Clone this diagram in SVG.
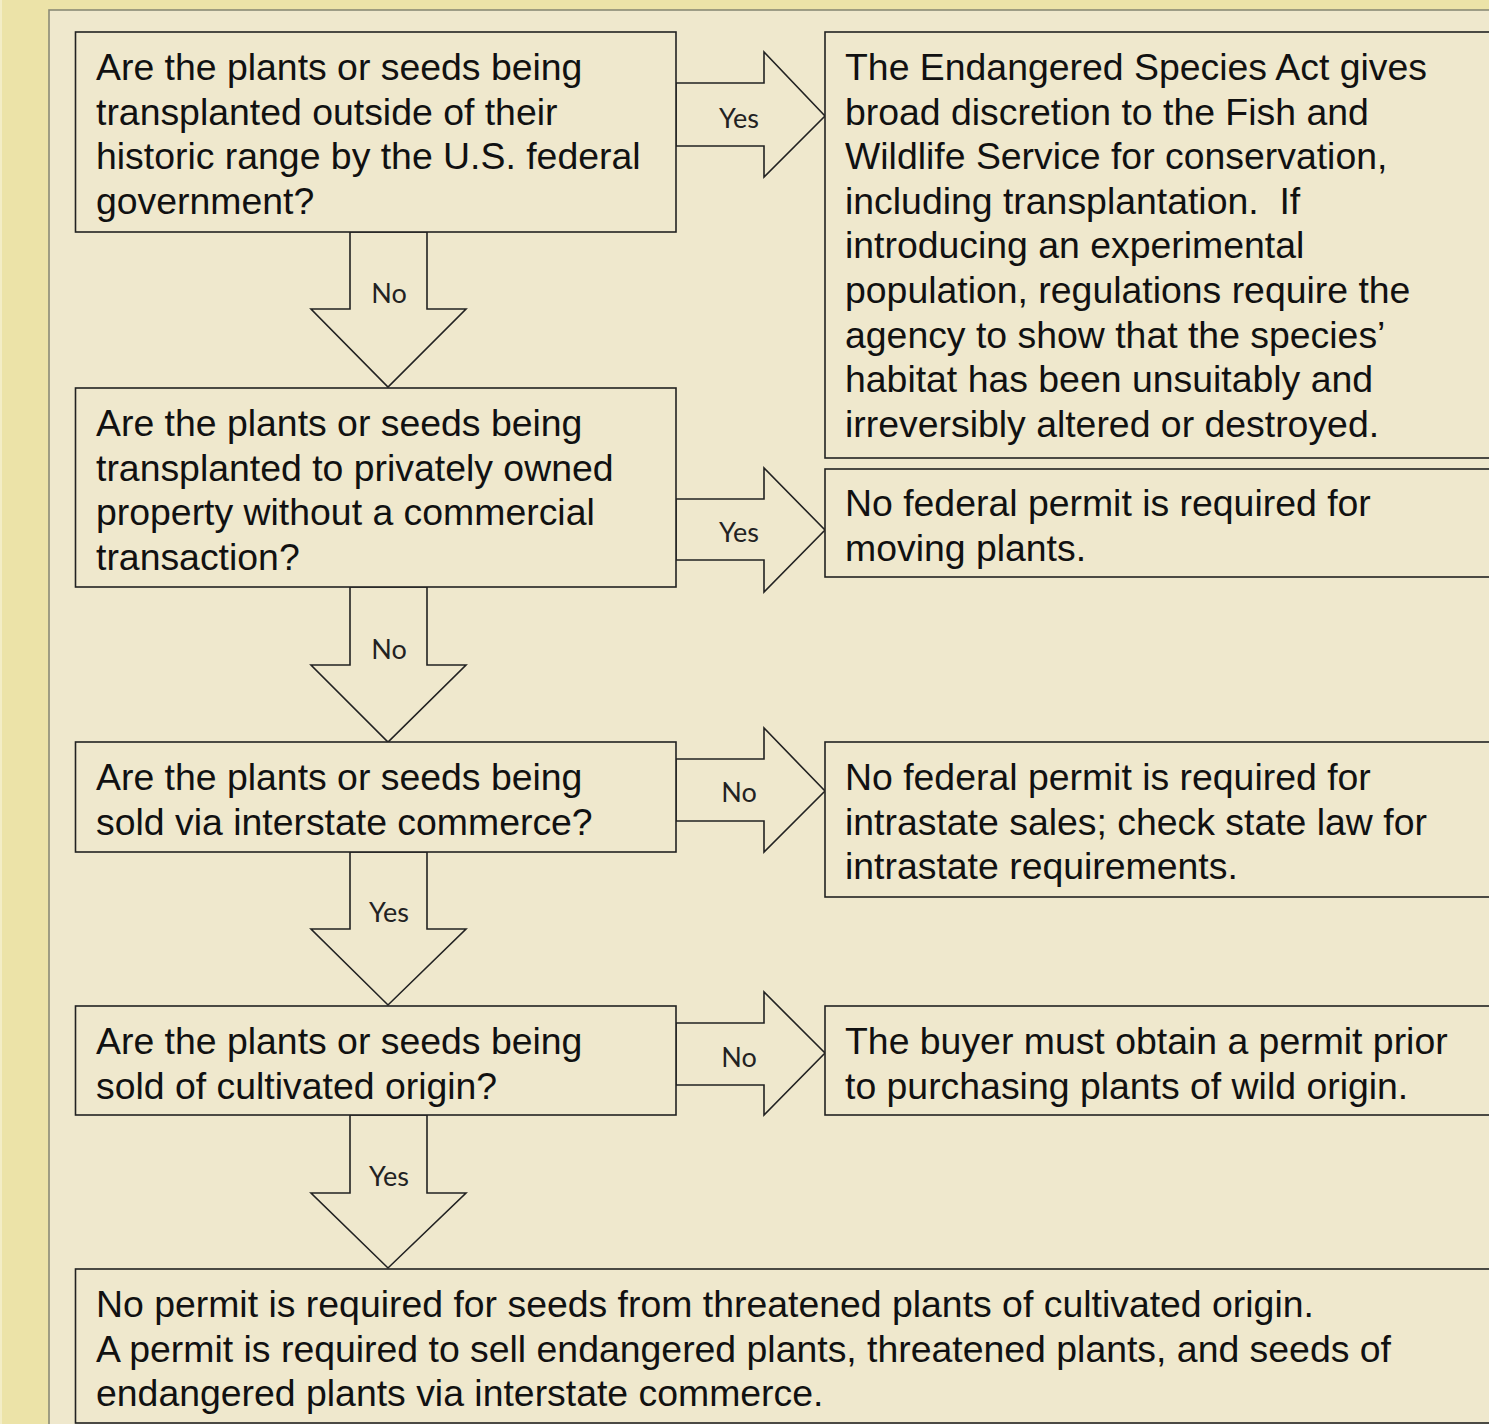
<svg xmlns="http://www.w3.org/2000/svg" width="1489" height="1424" viewBox="0 0 1489 1424">
<style>
.box{fill:#EFE8CD;stroke:#222;stroke-width:1.6}
.arr{fill:#EFE8CD;stroke:#222;stroke-width:1.6;stroke-linejoin:miter}
.t{font-family:"Liberation Sans",Arial,sans-serif;font-size:37.4px;fill:#111}
.lbl{font-family:Lato,"Open Sans",sans-serif;font-size:27px;fill:#222;text-anchor:middle}
</style>
<rect x="0" y="0" width="1489" height="1424" fill="#ECE3A8"/>
<rect x="0" y="0" width="2" height="1424" fill="#F3EDC6"/>
<rect x="49" y="10" width="1450" height="1430" fill="#EFE8CD" stroke="#8A8A76" stroke-width="1.6"/>

<g id="connectors">
  <g id="c1">
    <polygon class="arr" points="350,232 427,232 427,309 466,309 388,387 311,309 350,309"/>
    <text class="lbl" x="389" y="303">No</text>
  </g>
  <g id="c2">
    <polygon class="arr" points="676,83 764,83 764,52 825,116 764,177 764,146 676,146"/>
    <text class="lbl" x="739" y="128">Yes</text>
  </g>
  <g id="c3">
    <polygon class="arr" points="350,587 427,587 427,665 466,665 388,742 311,665 350,665"/>
    <text class="lbl" x="389" y="659">No</text>
  </g>
  <g id="c4">
    <polygon class="arr" points="676,499 764,499 764,468 825,530 764,592 764,560 676,560"/>
    <text class="lbl" x="739" y="542">Yes</text>
  </g>
  <g id="c5">
    <polygon class="arr" points="350,852 427,852 427,929 466,929 388,1005 311,929 350,929"/>
    <text class="lbl" x="389" y="922">Yes</text>
  </g>
  <g id="c6">
    <polygon class="arr" points="676,759 764,759 764,728 825,791 764,852 764,821 676,821"/>
    <text class="lbl" x="739" y="802">No</text>
  </g>
  <g id="c7">
    <polygon class="arr" points="350,1115 427,1115 427,1193 466,1193 388,1268 311,1193 350,1193"/>
    <text class="lbl" x="389" y="1186">Yes</text>
  </g>
  <g id="c8">
    <polygon class="arr" points="676,1023 764,1023 764,992 825,1053 764,1115 764,1085 676,1085"/>
    <text class="lbl" x="739" y="1067">No</text>
  </g>
</g>

<g id="q1">
  <rect class="box" x="75.5" y="32" width="600.5" height="200"/>
  <text class="t" x="96" y="80">Are the plants or seeds being</text>
  <text class="t" x="96" y="124.6">transplanted outside of their</text>
  <text class="t" x="96" y="169.2">historic range by the U.S. federal</text>
  <text class="t" x="96" y="213.8">government?</text>
</g>
<g id="r1">
  <rect class="box" x="825" y="32" width="700" height="426"/>
  <text class="t" x="845" y="80">The Endangered Species Act gives</text>
  <text class="t" x="845" y="124.6">broad discretion to the Fish and</text>
  <text class="t" x="845" y="169.2">Wildlife Service for conservation,</text>
  <text class="t" x="845" y="213.8" xml:space="preserve">including transplantation.  If</text>
  <text class="t" x="845" y="258.4">introducing an experimental</text>
  <text class="t" x="845" y="303">population, regulations require the</text>
  <text class="t" x="845" y="347.6">agency to show that the species’</text>
  <text class="t" x="845" y="392.2">habitat has been unsuitably and</text>
  <text class="t" x="845" y="436.8">irreversibly altered or destroyed.</text>
</g>
<g id="q2">
  <rect class="box" x="75.5" y="388" width="600.5" height="199"/>
  <text class="t" x="96" y="436">Are the plants or seeds being</text>
  <text class="t" x="96" y="480.6">transplanted to privately owned</text>
  <text class="t" x="96" y="525.2">property without a commercial</text>
  <text class="t" x="96" y="569.8">transaction?</text>
</g>
<g id="r2">
  <rect class="box" x="825" y="469" width="700" height="108"/>
  <text class="t" x="845" y="516">No federal permit is required for</text>
  <text class="t" x="845" y="560.6">moving plants.</text>
</g>
<g id="q3">
  <rect class="box" x="75.5" y="742" width="600.5" height="110"/>
  <text class="t" x="96" y="790">Are the plants or seeds being</text>
  <text class="t" x="96" y="834.6">sold via interstate commerce?</text>
</g>
<g id="r3">
  <rect class="box" x="825" y="742" width="700" height="155"/>
  <text class="t" x="845" y="790">No federal permit is required for</text>
  <text class="t" x="845" y="834.6">intrastate sales; check state law for</text>
  <text class="t" x="845" y="879.2">intrastate requirements.</text>
</g>
<g id="q4">
  <rect class="box" x="75.5" y="1006" width="600.5" height="109"/>
  <text class="t" x="96" y="1054">Are the plants or seeds being</text>
  <text class="t" x="96" y="1098.6">sold of cultivated origin?</text>
</g>
<g id="r4">
  <rect class="box" x="825" y="1006" width="700" height="109"/>
  <text class="t" x="845" y="1054">The buyer must obtain a permit prior</text>
  <text class="t" x="845" y="1098.6">to purchasing plants of wild origin.</text>
</g>
<g id="final">
  <rect class="box" x="75.5" y="1269" width="1450" height="154"/>
  <text class="t" x="96" y="1317">No permit is required for seeds from threatened plants of cultivated origin.</text>
  <text class="t" x="96" y="1361.6">A permit is required to sell endangered plants, threatened plants, and seeds of</text>
  <text class="t" x="96" y="1406.2">endangered plants via interstate commerce.</text>
</g>
</svg>
